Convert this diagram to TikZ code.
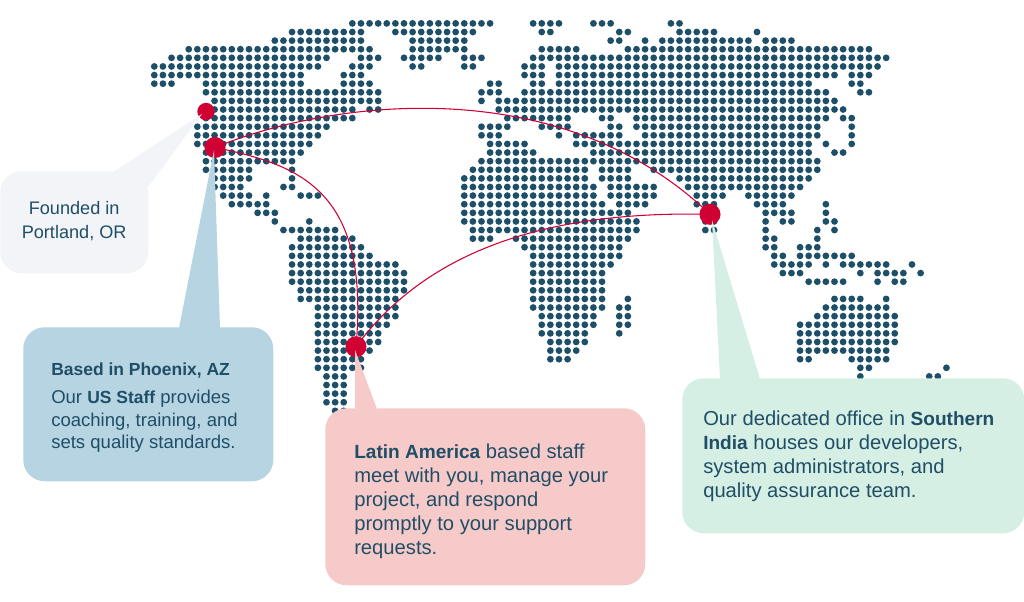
\documentclass[tikz,border=0pt]{standalone}
\usepackage{fontspec}
\setmainfont{Liberation Sans}
\definecolor{dotc}{HTML}{1D5068}
\definecolor{redc}{HTML}{D00032}
\definecolor{txtc}{HTML}{1F4E66}
\definecolor{grayb}{HTML}{F2F4F8}
\definecolor{blueb}{HTML}{B7D4E2}
\definecolor{pinkb}{HTML}{F7CACA}
\definecolor{greenb}{HTML}{D6EFE4}
\newcommand{\strongbig}[1]{{\fontsize{14.3pt}{18pt}\selectfont\bfseries #1}}
\newcommand{\strongsmall}[1]{{\fontsize{13.1pt}{17pt}\selectfont\bfseries #1}}
\tikzset{
  arcline/.style={draw=redc,line width=0.8pt},
  hub/.style={circle,fill=redc,inner sep=0pt,minimum size=15.8pt},
  smallhub/.style={circle,fill=redc,inner sep=0pt,minimum size=13pt},
  card/.style={anchor=north west,inner sep=0pt,rounded corners=16pt},
  words/.style={anchor=north west,inner sep=0pt,align=left,text=txtc,font=\fontsize{15.15pt}{18pt}\selectfont},
}
\begin{document}
\begin{tikzpicture}[x=0.75pt,y=-0.75pt]
\useasboundingbox (0,0) rectangle (1024,602);
\foreach \r/\spec in {
0/{23/39,44/47,51/53,60/61},
1/{16/24,28/37,45/46,54/55,61/65,70/70},
2/{14/24,30/36,53/54,57/57,59/69,71/74},
3/{4/25,30/36,45/49,55/83},
4/{2/20,24/26,29/33,36/38,44/85},
5/{0/19,23/25,30/31,36/37,43/45,47/84},
6/{0/17,22/24,43/45,47/79,81/83},
7/{0/2,6/17,22/25,39/40,44/45,47/76,81/82},
8/{6/26,38/40,43/78,82/83},
9/{7/26,38/38,40/79},
10/{6/23,25/26,40/80},
11/{6/23,41/48,52/53,56/78,80/81},
12/{5/20,38/41,45/48,53/54,56/77,81/81},
13/{5/19,38/40,47/47,49/54,57/77,81/81},
14/{5/18,39/43,49/76,78/78,81/81},
15/{6/17,39/44,51/76,79/80},
16/{6/16,38/77},
17/{6/11,16/16,37/50,52/55,58/77},
18/{7/11,16/16,36/50,52/55,61/76},
19/{7/10,15/16,36/51,53/58,62/75},
20/{8/11,13/13,17/19,36/51,53/58,63/66,69/74},
21/{9/13,36/52,54/57,63/65,70/73,78/78},
22/{12/14,36/55,64/65,71/74,78/78},
23/{14/14,18/18,36/56,64/65,71/71,73/74,78/79},
24/{15/21,37/56,64/65,71/71,77/77,79/79},
25/{17/23,37/39,42/55,71/72,77/77},
26/{16/24,43/54,71/72,75/77},
27/{16/25,44/54,72/73,75/81},
28/{16/28,44/53,72/76,78/78,80/85,88/88},
29/{16/29,44/52,73/75,82/82,84/87,89/89},
30/{16/29,44/52,76/80,84/84,86/87},
31/{17/29,44/52},
32/{17/28,44/52,55/55,79/82,85/85},
33/{19/28,44/52,54/55,78/85},
34/{19/28,45/51,54/55,77/86},
35/{19/27,45/51,54/55,75/86},
36/{19/26,45/50,54/54,75/86},
37/{19/26,46/50,75/86},
38/{19/25,46/49,75/85},
39/{19/24,46/48,75/76,81/85},
40/{19/24,82/83,92/92},
41/{20/22,82/82,90/91},
42/{20/22},
43/{20/22},
44/{20/22},
45/{21/22}}{
  \foreach \a/\b in \spec {
    \foreach \c in {\a,...,\b} {
      \fill[dotc] ({154.3+8.61*\c},{23.4+8.61*\r}) circle[radius=2.55pt];
    }
  }
}
% hubs
\node[smallhub] (portland) at (206,111.5) {};
\node[hub] (phoenix) at (215,147.5) {};
\node[hub] (latam) at (356,346.7) {};
\node[hub] (india) at (710,214.3) {};
% arcs
\draw[arcline] (phoenix.center) .. controls (330,100) and (560,70) .. (india.center);
\draw[arcline] (phoenix.center) .. controls (300,165) and (370,190) .. (latam.center);
\draw[arcline] (latam.center) .. controls (420,260) and (530,210) .. (india.center);
% callout tails
\fill[grayb] (202,114) -- (113,172) -- (148,187) -- cycle;
\fill[blueb] (214,150) -- (179,328) -- (220,328) -- cycle;
\fill[pinkb] (355,350) -- (355,409) -- (377,409) -- cycle;
\fill[greenb] (712,220) -- (720,379) -- (760,379) -- cycle;
% cards
\node[card,fill=grayb,minimum width=111pt,minimum height=76.5pt] (founded) at (0,171) {};
\node[card,fill=blueb,minimum width=187.5pt,minimum height=115.5pt] (based) at (23,327) {};
\node[card,fill=pinkb,minimum width=240pt,minimum height=132.75pt] (staff) at (325,408) {};
\node[card,fill=greenb,minimum width=256.5pt,minimum height=116.25pt] (office) at (682,378) {};
% texts
\node[words,align=center,font=\fontsize{13.6pt}{18pt}\selectfont] (t1) at (21.5,201.5) {Founded in\\Portland, OR};
\node[words,font=\fontsize{13.9pt}{17pt}\selectfont] (t2) at (51,362.5) {\strongsmall{Based in Phoenix, AZ}\\[4pt]Our \strongsmall{US Staff} provides\\coaching, training, and\\sets quality standards.};
\node[words] (t3) at (354,443.5) {\strongbig{Latin America} based staff\\meet with you, manage your\\project, and respond\\promptly to your support\\requests.};
\node[words] (t4) at (703,410.5) {Our dedicated office in \strongbig{Southern}\\\strongbig{India} houses our developers,\\system administrators, and\\quality assurance team.};
\end{tikzpicture}
\end{document}
